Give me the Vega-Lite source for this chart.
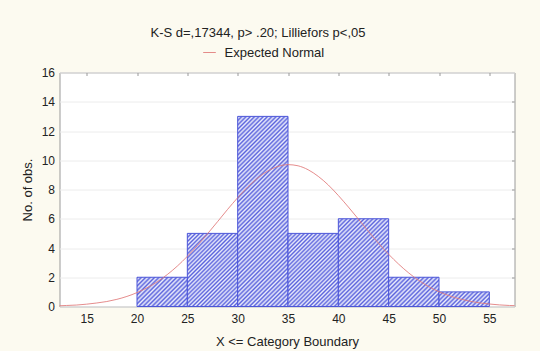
{
  "$schema": "https://vega.github.io/schema/vega-lite/v6.json",
  "width": 455,
  "height": 234,
  "autosize": "none",
  "padding": {"left": 59.5, "top": 72.5, "right": 25.5, "bottom": 44.5},
  "background": "#fcfaf0",
  "config": {
    "font": "Liberation Sans",
    "view": {"fill": "white", "stroke": "#9a9a9a", "strokeWidth": 1}
  },
  "title": {
    "text": "K-S d=,17344,  p> .20; Lilliefors p<,05",
    "fontSize": 13,
    "fontWeight": "normal",
    "color": "#222222",
    "anchor": "middle",
    "dx": -29,
    "offset": 6
  },
  "resolve": {"axis": {"x": "independent", "y": "independent"}},
  "layer": [
    {
      "data": {"values": [
        {"lower": 20, "upper": 25, "count": 2},
        {"lower": 25, "upper": 30, "count": 5},
        {"lower": 30, "upper": 35, "count": 13},
        {"lower": 35, "upper": 40, "count": 5},
        {"lower": 40, "upper": 45, "count": 6},
        {"lower": 45, "upper": 50, "count": 2},
        {"lower": 50, "upper": 55, "count": 1}
      ]},
      "mark": {"type": "rect", "stroke": "#4b55d8", "strokeWidth": 1},
      "encoding": {
        "x": {
          "field": "lower", "type": "quantitative",
          "scale": {"domain": [12.3, 57.5], "nice": false, "zero": false},
          "axis": {
            "title": "X <= Category  Boundary",
            "values": [15, 20, 25, 30, 35, 40, 45, 50, 55],
            "grid": false, "ticks": false, "domain": false, "labelOverlap": false,
            "labelFontSize": 12, "labelColor": "#222222", "labelPadding": 7,
            "titleFontSize": 13, "titleFontWeight": "normal", "titleColor": "#222222", "titlePadding": 11
          }
        },
        "x2": {"field": "upper"},
        "y": {
          "field": "count", "type": "quantitative",
          "scale": {"domain": [0, 16], "nice": false},
          "axis": {
            "title": "No. of obs.",
            "values": [0, 2, 4, 6, 8, 10, 12, 14, 16],
            "grid": true, "gridColor": "#ececec", "ticks": false, "domain": false, "labelOverlap": false,
            "labelFontSize": 12, "labelColor": "#222222", "labelPadding": 5,
            "titleFontSize": 13, "titleFontWeight": "normal", "titleColor": "#222222", "titlePadding": 7
          }
        },
        "y2": {"datum": 0},
        "fill": {
          "condition": [
            {"test": "datum.count === 13", "value": {"gradient": "linear", "x1": 0, "y1": 0, "x2": 0.3129, "y2": 1.1819, "stops": [
              {"offset":0,"color":"#5b63dd"},{"offset":0.0089,"color":"#eceefc"},{"offset":0.0179,"color":"#5b63dd"},{"offset":0.0268,"color":"#eceefc"},
              {"offset":0.0357,"color":"#5b63dd"},{"offset":0.0446,"color":"#eceefc"},{"offset":0.0536,"color":"#5b63dd"},{"offset":0.0625,"color":"#eceefc"},
              {"offset":0.0714,"color":"#5b63dd"},{"offset":0.0804,"color":"#eceefc"},{"offset":0.0893,"color":"#5b63dd"},{"offset":0.0982,"color":"#eceefc"},
              {"offset":0.1071,"color":"#5b63dd"},{"offset":0.1161,"color":"#eceefc"},{"offset":0.125,"color":"#5b63dd"},{"offset":0.1339,"color":"#eceefc"},
              {"offset":0.1429,"color":"#5b63dd"},{"offset":0.1518,"color":"#eceefc"},{"offset":0.1607,"color":"#5b63dd"},{"offset":0.1696,"color":"#eceefc"},
              {"offset":0.1786,"color":"#5b63dd"},{"offset":0.1875,"color":"#eceefc"},{"offset":0.1964,"color":"#5b63dd"},{"offset":0.2054,"color":"#eceefc"},
              {"offset":0.2143,"color":"#5b63dd"},{"offset":0.2232,"color":"#eceefc"},{"offset":0.2321,"color":"#5b63dd"},{"offset":0.2411,"color":"#eceefc"},
              {"offset":0.25,"color":"#5b63dd"},{"offset":0.2589,"color":"#eceefc"},{"offset":0.2679,"color":"#5b63dd"},{"offset":0.2768,"color":"#eceefc"},
              {"offset":0.2857,"color":"#5b63dd"},{"offset":0.2946,"color":"#eceefc"},{"offset":0.3036,"color":"#5b63dd"},{"offset":0.3125,"color":"#eceefc"},
              {"offset":0.3214,"color":"#5b63dd"},{"offset":0.3304,"color":"#eceefc"},{"offset":0.3393,"color":"#5b63dd"},{"offset":0.3482,"color":"#eceefc"},
              {"offset":0.3571,"color":"#5b63dd"},{"offset":0.3661,"color":"#eceefc"},{"offset":0.375,"color":"#5b63dd"},{"offset":0.3839,"color":"#eceefc"},
              {"offset":0.3929,"color":"#5b63dd"},{"offset":0.4018,"color":"#eceefc"},{"offset":0.4107,"color":"#5b63dd"},{"offset":0.4196,"color":"#eceefc"},
              {"offset":0.4286,"color":"#5b63dd"},{"offset":0.4375,"color":"#eceefc"},{"offset":0.4464,"color":"#5b63dd"},{"offset":0.4554,"color":"#eceefc"},
              {"offset":0.4643,"color":"#5b63dd"},{"offset":0.4732,"color":"#eceefc"},{"offset":0.4821,"color":"#5b63dd"},{"offset":0.4911,"color":"#eceefc"},
              {"offset":0.5,"color":"#5b63dd"},{"offset":0.5089,"color":"#eceefc"},{"offset":0.5179,"color":"#5b63dd"},{"offset":0.5268,"color":"#eceefc"},
              {"offset":0.5357,"color":"#5b63dd"},{"offset":0.5446,"color":"#eceefc"},{"offset":0.5536,"color":"#5b63dd"},{"offset":0.5625,"color":"#eceefc"},
              {"offset":0.5714,"color":"#5b63dd"},{"offset":0.5804,"color":"#eceefc"},{"offset":0.5893,"color":"#5b63dd"},{"offset":0.5982,"color":"#eceefc"},
              {"offset":0.6071,"color":"#5b63dd"},{"offset":0.6161,"color":"#eceefc"},{"offset":0.625,"color":"#5b63dd"},{"offset":0.6339,"color":"#eceefc"},
              {"offset":0.6429,"color":"#5b63dd"},{"offset":0.6518,"color":"#eceefc"},{"offset":0.6607,"color":"#5b63dd"},{"offset":0.6696,"color":"#eceefc"},
              {"offset":0.6786,"color":"#5b63dd"},{"offset":0.6875,"color":"#eceefc"},{"offset":0.6964,"color":"#5b63dd"},{"offset":0.7054,"color":"#eceefc"},
              {"offset":0.7143,"color":"#5b63dd"},{"offset":0.7232,"color":"#eceefc"},{"offset":0.7321,"color":"#5b63dd"},{"offset":0.7411,"color":"#eceefc"},
              {"offset":0.75,"color":"#5b63dd"},{"offset":0.7589,"color":"#eceefc"},{"offset":0.7679,"color":"#5b63dd"},{"offset":0.7768,"color":"#eceefc"},
              {"offset":0.7857,"color":"#5b63dd"},{"offset":0.7946,"color":"#eceefc"},{"offset":0.8036,"color":"#5b63dd"},{"offset":0.8125,"color":"#eceefc"},
              {"offset":0.8214,"color":"#5b63dd"},{"offset":0.8304,"color":"#eceefc"},{"offset":0.8393,"color":"#5b63dd"},{"offset":0.8482,"color":"#eceefc"},
              {"offset":0.8571,"color":"#5b63dd"},{"offset":0.8661,"color":"#eceefc"},{"offset":0.875,"color":"#5b63dd"},{"offset":0.8839,"color":"#eceefc"},
              {"offset":0.8929,"color":"#5b63dd"},{"offset":0.9018,"color":"#eceefc"},{"offset":0.9107,"color":"#5b63dd"},{"offset":0.9196,"color":"#eceefc"},
              {"offset":0.9286,"color":"#5b63dd"},{"offset":0.9375,"color":"#eceefc"},{"offset":0.9464,"color":"#5b63dd"},{"offset":0.9554,"color":"#eceefc"},
              {"offset":0.9643,"color":"#5b63dd"},{"offset":0.9732,"color":"#eceefc"},{"offset":0.9821,"color":"#5b63dd"},{"offset":0.9911,"color":"#eceefc"},
              {"offset":1,"color":"#5b63dd"}
            ]}},
            {"test": "datum.count === 6", "value": {"gradient": "linear", "x1": 0, "y1": 0, "x2": 0.6791, "y2": 1.184, "stops": [
              {"offset":0,"color":"#5b63dd"},{"offset":0.0156,"color":"#eceefc"},{"offset":0.0313,"color":"#5b63dd"},{"offset":0.0469,"color":"#eceefc"},
              {"offset":0.0625,"color":"#5b63dd"},{"offset":0.0781,"color":"#eceefc"},{"offset":0.0938,"color":"#5b63dd"},{"offset":0.1094,"color":"#eceefc"},
              {"offset":0.125,"color":"#5b63dd"},{"offset":0.1406,"color":"#eceefc"},{"offset":0.1563,"color":"#5b63dd"},{"offset":0.1719,"color":"#eceefc"},
              {"offset":0.1875,"color":"#5b63dd"},{"offset":0.2031,"color":"#eceefc"},{"offset":0.2188,"color":"#5b63dd"},{"offset":0.2344,"color":"#eceefc"},
              {"offset":0.25,"color":"#5b63dd"},{"offset":0.2656,"color":"#eceefc"},{"offset":0.2813,"color":"#5b63dd"},{"offset":0.2969,"color":"#eceefc"},
              {"offset":0.3125,"color":"#5b63dd"},{"offset":0.3281,"color":"#eceefc"},{"offset":0.3438,"color":"#5b63dd"},{"offset":0.3594,"color":"#eceefc"},
              {"offset":0.375,"color":"#5b63dd"},{"offset":0.3906,"color":"#eceefc"},{"offset":0.4063,"color":"#5b63dd"},{"offset":0.4219,"color":"#eceefc"},
              {"offset":0.4375,"color":"#5b63dd"},{"offset":0.4531,"color":"#eceefc"},{"offset":0.4688,"color":"#5b63dd"},{"offset":0.4844,"color":"#eceefc"},
              {"offset":0.5,"color":"#5b63dd"},{"offset":0.5156,"color":"#eceefc"},{"offset":0.5313,"color":"#5b63dd"},{"offset":0.5469,"color":"#eceefc"},
              {"offset":0.5625,"color":"#5b63dd"},{"offset":0.5781,"color":"#eceefc"},{"offset":0.5938,"color":"#5b63dd"},{"offset":0.6094,"color":"#eceefc"},
              {"offset":0.625,"color":"#5b63dd"},{"offset":0.6406,"color":"#eceefc"},{"offset":0.6563,"color":"#5b63dd"},{"offset":0.6719,"color":"#eceefc"},
              {"offset":0.6875,"color":"#5b63dd"},{"offset":0.7031,"color":"#eceefc"},{"offset":0.7188,"color":"#5b63dd"},{"offset":0.7344,"color":"#eceefc"},
              {"offset":0.75,"color":"#5b63dd"},{"offset":0.7656,"color":"#eceefc"},{"offset":0.7813,"color":"#5b63dd"},{"offset":0.7969,"color":"#eceefc"},
              {"offset":0.8125,"color":"#5b63dd"},{"offset":0.8281,"color":"#eceefc"},{"offset":0.8438,"color":"#5b63dd"},{"offset":0.8594,"color":"#eceefc"},
              {"offset":0.875,"color":"#5b63dd"},{"offset":0.8906,"color":"#eceefc"},{"offset":0.9063,"color":"#5b63dd"},{"offset":0.9219,"color":"#eceefc"},
              {"offset":0.9375,"color":"#5b63dd"},{"offset":0.9531,"color":"#eceefc"},{"offset":0.9688,"color":"#5b63dd"},{"offset":0.9844,"color":"#eceefc"},
              {"offset":1,"color":"#5b63dd"}
            ]}},
            {"test": "datum.count === 5", "value": {"gradient": "linear", "x1": 0, "y1": 0, "x2": 0.7885, "y2": 1.1456, "stops": [
              {"offset":0,"color":"#5b63dd"},{"offset":0.0167,"color":"#eceefc"},{"offset":0.0333,"color":"#5b63dd"},{"offset":0.05,"color":"#eceefc"},
              {"offset":0.0667,"color":"#5b63dd"},{"offset":0.0833,"color":"#eceefc"},{"offset":0.1,"color":"#5b63dd"},{"offset":0.1167,"color":"#eceefc"},
              {"offset":0.1333,"color":"#5b63dd"},{"offset":0.15,"color":"#eceefc"},{"offset":0.1667,"color":"#5b63dd"},{"offset":0.1833,"color":"#eceefc"},
              {"offset":0.2,"color":"#5b63dd"},{"offset":0.2167,"color":"#eceefc"},{"offset":0.2333,"color":"#5b63dd"},{"offset":0.25,"color":"#eceefc"},
              {"offset":0.2667,"color":"#5b63dd"},{"offset":0.2833,"color":"#eceefc"},{"offset":0.3,"color":"#5b63dd"},{"offset":0.3167,"color":"#eceefc"},
              {"offset":0.3333,"color":"#5b63dd"},{"offset":0.35,"color":"#eceefc"},{"offset":0.3667,"color":"#5b63dd"},{"offset":0.3833,"color":"#eceefc"},
              {"offset":0.4,"color":"#5b63dd"},{"offset":0.4167,"color":"#eceefc"},{"offset":0.4333,"color":"#5b63dd"},{"offset":0.45,"color":"#eceefc"},
              {"offset":0.4667,"color":"#5b63dd"},{"offset":0.4833,"color":"#eceefc"},{"offset":0.5,"color":"#5b63dd"},{"offset":0.5167,"color":"#eceefc"},
              {"offset":0.5333,"color":"#5b63dd"},{"offset":0.55,"color":"#eceefc"},{"offset":0.5667,"color":"#5b63dd"},{"offset":0.5833,"color":"#eceefc"},
              {"offset":0.6,"color":"#5b63dd"},{"offset":0.6167,"color":"#eceefc"},{"offset":0.6333,"color":"#5b63dd"},{"offset":0.65,"color":"#eceefc"},
              {"offset":0.6667,"color":"#5b63dd"},{"offset":0.6833,"color":"#eceefc"},{"offset":0.7,"color":"#5b63dd"},{"offset":0.7167,"color":"#eceefc"},
              {"offset":0.7333,"color":"#5b63dd"},{"offset":0.75,"color":"#eceefc"},{"offset":0.7667,"color":"#5b63dd"},{"offset":0.7833,"color":"#eceefc"},
              {"offset":0.8,"color":"#5b63dd"},{"offset":0.8167,"color":"#eceefc"},{"offset":0.8333,"color":"#5b63dd"},{"offset":0.85,"color":"#eceefc"},
              {"offset":0.8667,"color":"#5b63dd"},{"offset":0.8833,"color":"#eceefc"},{"offset":0.9,"color":"#5b63dd"},{"offset":0.9167,"color":"#eceefc"},
              {"offset":0.9333,"color":"#5b63dd"},{"offset":0.95,"color":"#eceefc"},{"offset":0.9667,"color":"#5b63dd"},{"offset":0.9833,"color":"#eceefc"},
              {"offset":1,"color":"#5b63dd"}
            ]}},
            {"test": "datum.count === 2", "value": {"gradient": "linear", "x1": 0, "y1": 0, "x2": 1.182, "y2": 0.6869, "stops": [
              {"offset":0,"color":"#5b63dd"},{"offset":0.0278,"color":"#eceefc"},{"offset":0.0556,"color":"#5b63dd"},{"offset":0.0833,"color":"#eceefc"},
              {"offset":0.1111,"color":"#5b63dd"},{"offset":0.1389,"color":"#eceefc"},{"offset":0.1667,"color":"#5b63dd"},{"offset":0.1944,"color":"#eceefc"},
              {"offset":0.2222,"color":"#5b63dd"},{"offset":0.25,"color":"#eceefc"},{"offset":0.2778,"color":"#5b63dd"},{"offset":0.3056,"color":"#eceefc"},
              {"offset":0.3333,"color":"#5b63dd"},{"offset":0.3611,"color":"#eceefc"},{"offset":0.3889,"color":"#5b63dd"},{"offset":0.4167,"color":"#eceefc"},
              {"offset":0.4444,"color":"#5b63dd"},{"offset":0.4722,"color":"#eceefc"},{"offset":0.5,"color":"#5b63dd"},{"offset":0.5278,"color":"#eceefc"},
              {"offset":0.5556,"color":"#5b63dd"},{"offset":0.5833,"color":"#eceefc"},{"offset":0.6111,"color":"#5b63dd"},{"offset":0.6389,"color":"#eceefc"},
              {"offset":0.6667,"color":"#5b63dd"},{"offset":0.6944,"color":"#eceefc"},{"offset":0.7222,"color":"#5b63dd"},{"offset":0.75,"color":"#eceefc"},
              {"offset":0.7778,"color":"#5b63dd"},{"offset":0.8056,"color":"#eceefc"},{"offset":0.8333,"color":"#5b63dd"},{"offset":0.8611,"color":"#eceefc"},
              {"offset":0.8889,"color":"#5b63dd"},{"offset":0.9167,"color":"#eceefc"},{"offset":0.9444,"color":"#5b63dd"},{"offset":0.9722,"color":"#eceefc"},
              {"offset":1,"color":"#5b63dd"}
            ]}}
          ],
          "value": {"gradient": "linear", "x1": 0, "y1": 0, "x2": 1.19, "y2": 0.3459, "stops": [
            {"offset":0,"color":"#5b63dd"},{"offset":0.0333,"color":"#eceefc"},{"offset":0.0667,"color":"#5b63dd"},{"offset":0.1,"color":"#eceefc"},
            {"offset":0.1333,"color":"#5b63dd"},{"offset":0.1667,"color":"#eceefc"},{"offset":0.2,"color":"#5b63dd"},{"offset":0.2333,"color":"#eceefc"},
            {"offset":0.2667,"color":"#5b63dd"},{"offset":0.3,"color":"#eceefc"},{"offset":0.3333,"color":"#5b63dd"},{"offset":0.3667,"color":"#eceefc"},
            {"offset":0.4,"color":"#5b63dd"},{"offset":0.4333,"color":"#eceefc"},{"offset":0.4667,"color":"#5b63dd"},{"offset":0.5,"color":"#eceefc"},
            {"offset":0.5333,"color":"#5b63dd"},{"offset":0.5667,"color":"#eceefc"},{"offset":0.6,"color":"#5b63dd"},{"offset":0.6333,"color":"#eceefc"},
            {"offset":0.6667,"color":"#5b63dd"},{"offset":0.7,"color":"#eceefc"},{"offset":0.7333,"color":"#5b63dd"},{"offset":0.7667,"color":"#eceefc"},
            {"offset":0.8,"color":"#5b63dd"},{"offset":0.8333,"color":"#eceefc"},{"offset":0.8667,"color":"#5b63dd"},{"offset":0.9,"color":"#eceefc"},
            {"offset":0.9333,"color":"#5b63dd"},{"offset":0.9667,"color":"#eceefc"},{"offset":1,"color":"#5b63dd"}
          ]}
        }
      }
    },
    {
      "data": {"values": [
        {"x": 12.3, "expected": 0.05},
        {"x": 13, "expected": 0.07},
        {"x": 14, "expected": 0.10},
        {"x": 15, "expected": 0.16},
        {"x": 16, "expected": 0.24},
        {"x": 17, "expected": 0.34},
        {"x": 18, "expected": 0.49},
        {"x": 19, "expected": 0.69},
        {"x": 20, "expected": 0.95},
        {"x": 21, "expected": 1.28},
        {"x": 22, "expected": 1.68},
        {"x": 23, "expected": 2.18},
        {"x": 24, "expected": 2.76},
        {"x": 25, "expected": 3.43},
        {"x": 26, "expected": 4.17},
        {"x": 27, "expected": 4.97},
        {"x": 28, "expected": 5.80},
        {"x": 29, "expected": 6.64},
        {"x": 30, "expected": 7.44},
        {"x": 31, "expected": 8.17},
        {"x": 32, "expected": 8.79},
        {"x": 33, "expected": 9.27},
        {"x": 34, "expected": 9.58},
        {"x": 35, "expected": 9.70},
        {"x": 36, "expected": 9.62},
        {"x": 37, "expected": 9.35},
        {"x": 38, "expected": 8.90},
        {"x": 39, "expected": 8.31},
        {"x": 40, "expected": 7.59},
        {"x": 41, "expected": 6.80},
        {"x": 42, "expected": 5.97},
        {"x": 43, "expected": 5.13},
        {"x": 44, "expected": 4.32},
        {"x": 45, "expected": 3.57},
        {"x": 46, "expected": 2.89},
        {"x": 47, "expected": 2.29},
        {"x": 48, "expected": 1.78},
        {"x": 49, "expected": 1.35},
        {"x": 50, "expected": 1.01},
        {"x": 51, "expected": 0.74},
        {"x": 52, "expected": 0.53},
        {"x": 53, "expected": 0.37},
        {"x": 54, "expected": 0.25},
        {"x": 55, "expected": 0.17},
        {"x": 56, "expected": 0.11},
        {"x": 57, "expected": 0.07},
        {"x": 57.5, "expected": 0.06}
      ]},
      "mark": {"type": "line", "strokeWidth": 1, "interpolate": "monotone", "opacity": 0.85},
      "encoding": {
        "x": {
          "field": "x", "type": "quantitative",
          "axis": {
            "orient": "top", "title": null, "labels": false, "grid": false, "domain": false,
            "values": [15, 20, 25, 30, 35, 40, 45, 50, 55],
            "ticks": true, "tickSize": -3, "tickColor": "#999999"
          }
        },
        "y": {
          "field": "expected", "type": "quantitative",
          "axis": {
            "orient": "right", "title": null, "labels": false, "grid": false, "domain": false,
            "values": [2, 4, 6, 8, 10, 12, 14],
            "ticks": true, "tickSize": -3, "tickColor": "#999999"
          }
        },
        "stroke": {
          "datum": "Expected Normal", "type": "nominal",
          "scale": {"range": ["#e07878"]},
          "legend": {
            "title": null, "orient": "none", "legendX": 143, "legendY": -27,
            "symbolType": "stroke", "symbolSize": 160, "symbolStrokeWidth": 1,
            "labelFontSize": 13, "labelColor": "#222222", "labelOffset": 8, "padding": 0
          }
        }
      }
    }
  ]
}
